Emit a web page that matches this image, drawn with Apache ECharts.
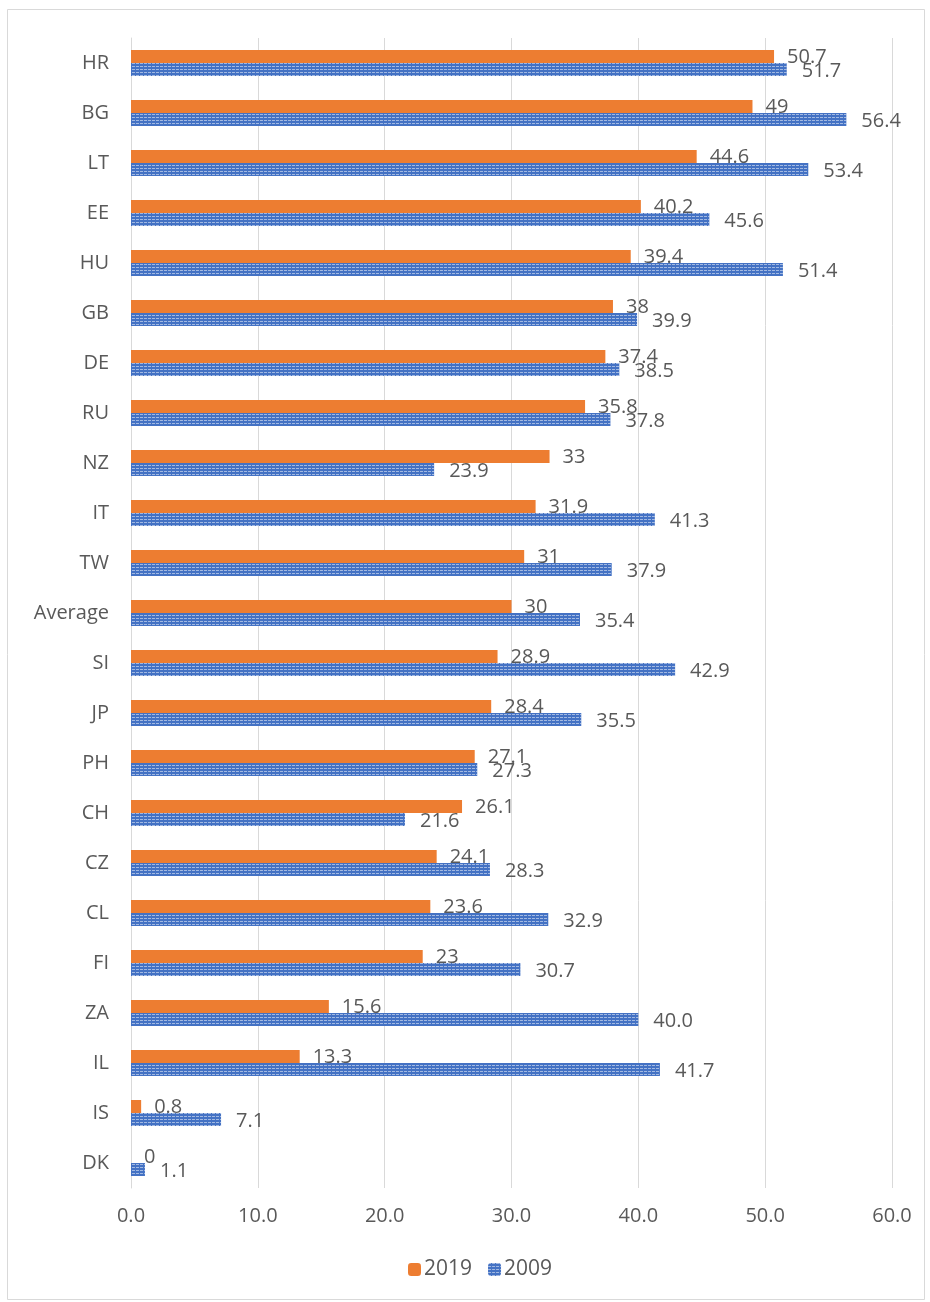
<!DOCTYPE html>
<html>
<head>
<meta charset="utf-8">
<script src="https://cdn.jsdelivr.net/npm/echarts@6/dist/echarts.min.js"></script>
<style>
  html, body { margin: 0; padding: 0; background: #fff; }
</style>
</head>
<body>
<div id="myChart" style="width:930px;height:1302px;"></div>
<script>
    // categories top to bottom
    var categories = ['HR', 'BG', 'LT', 'EE', 'HU', 'GB', 'DE', 'RU', 'NZ', 'IT', 'TW', 'Average',
        'SI', 'JP', 'PH', 'CH', 'CZ', 'CL', 'FI', 'ZA', 'IL', 'IS', 'DK'];
    var values2019 = [50.7, 49, 44.6, 40.2, 39.4, 38, 37.4, 35.8, 33, 31.9, 31, 30,
        28.9, 28.4, 27.1, 26.1, 24.1, 23.6, 23, 15.6, 13.3, 0.8, 0];
    var values2009 = [51.7, 56.4, 53.4, 45.6, 51.4, 39.9, 38.5, 37.8, 23.9, 41.3, 37.9, 35.4,
        42.9, 35.5, 27.3, 21.6, 28.3, 32.9, 30.7, 40.0, 41.7, 7.1, 1.1];
    var seriesNames = ['2019', '2009'];

    var font = '"Open Sans", Lato, sans-serif';
    var txt = '#595959';

    var myChart = echarts.init(document.getElementById('myChart'));
    var option = {
        animation: false,
        backgroundColor: '#fff',
        textStyle: { fontFamily: font },
        graphic: [{
            type: 'rect',
            shape: { x: 7.5, y: 9.5, width: 917, height: 1290 },
            style: { fill: 'none', stroke: '#d9d9d9', lineWidth: 1 }
        }],
        legend: {
            data: seriesNames,
            bottom: 17,
            left: 403,
            itemWidth: 13,
            itemHeight: 13,
            itemGap: 16,
            textStyle: { color: txt, fontSize: 21, fontFamily: font, padding: [0, 0, 0, -2] }
        },
        grid: { left: 131, right: 38, top: 38, bottom: 114 },
        xAxis: {
            type: 'value',
            min: 0,
            max: 60,
            interval: 10,
            axisLine: { show: false },
            axisTick: { show: false },
            splitLine: { lineStyle: { color: '#d9d9d9' } },
            axisLabel: {
                color: txt, fontSize: 20, margin: 18,
                formatter: function (v) { return v.toFixed(1); }
            }
        },
        yAxis: {
            type: 'category',
            inverse: true,
            data: categories,
            axisLine: { lineStyle: { color: '#d9d9d9' } },
            axisTick: { show: false },
            axisLabel: { color: txt, fontSize: 20, margin: 22 }
        },
        series: [
            {
                name: seriesNames[0],
                type: 'bar',
                data: values2019,
                barWidth: 13,
                barGap: '0%',
                itemStyle: { color: '#ED7D31' },
                label: {
                    show: true, position: 'right', distance: 13, offset: [0, 1],
                    color: txt, fontSize: 20
                }
            },
            {
                name: seriesNames[1],
                type: 'bar',
                data: values2009,
                barWidth: 13,
                itemStyle: {
                    color: '#4472C4',
                    decal: {
                        symbol: 'rect',
                        symbolSize: 1,
                        dashArrayX: [3, 1],
                        dashArrayY: [1, 2],
                        color: 'rgba(255,255,255,0.5)'
                    }
                },
                label: {
                    show: true, position: 'right', distance: 15, offset: [0, 2],
                    color: txt, fontSize: 20,
                    formatter: function (p) { return p.value.toFixed(1); }
                }
            }
        ]
    };
    myChart.setOption(option);
</script>
</body>
</html>
